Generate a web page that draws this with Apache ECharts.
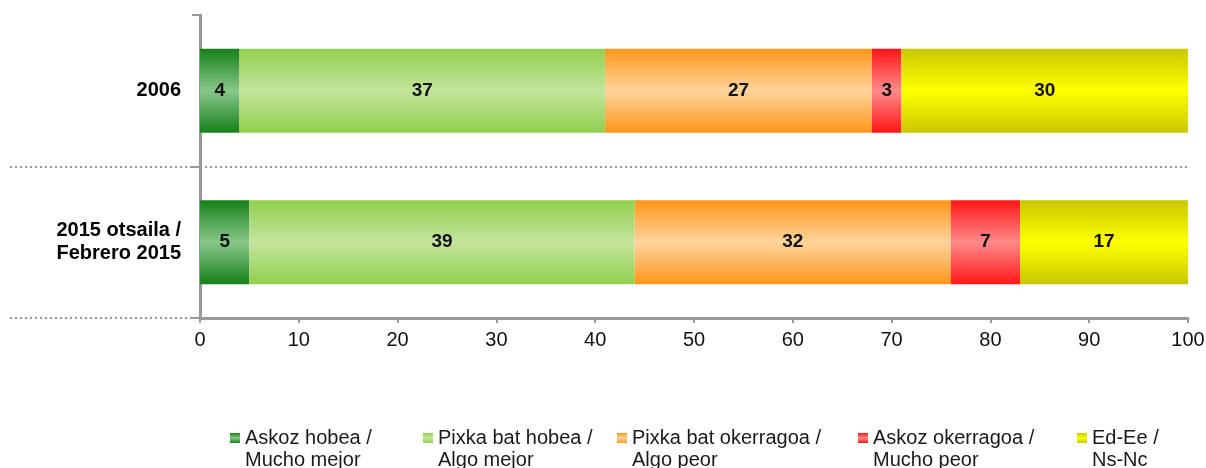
<!DOCTYPE html>
<html>
<head>
<meta charset="utf-8">
<script src="https://cdn.jsdelivr.net/npm/echarts@6/dist/echarts.min.js"></script>
<style>
  html, body { margin: 0; padding: 0; background: #fff; }
  #chart { width: 1206px; height: 468px; }
</style>
</head>
<body>
<div id="chart"></div>
<script>
// Categories (top to bottom) and the five answer groups.
const categories = ['2006', '2015 otsaila /\nFebrero 2015'];
const seriesNames = [
  'Askoz hobea /\nMucho mejor',
  'Pixka bat hobea /\nAlgo mejor',
  'Pixka bat okerragoa /\nAlgo peor',
  'Askoz okerragoa /\nMucho peor',
  'Ed-Ee /\nNs-Nc'
];
const muchoMejor = [4, 5];
const algoMejor  = [37, 39];
const algoPeor   = [27, 32];
const muchoPeor  = [3, 7];
const nsNc       = [30, 17];
const xTicks = [0, 10, 20, 30, 40, 50, 60, 70, 80, 90, 100];

// Edge / centre colours of the vertical bar gradients.
const palette = [
  ['#17801a', '#88c78a'],
  ['#92d050', '#c4e49c'],
  ['#ff961a', '#ffd49c'],
  ['#ff1616', '#ff8a8a'],
  ['#c8c800', '#ffff00']
];
const values = [muchoMejor, algoMejor, algoPeor, muchoPeor, nsNc];
const legendX = [230, 423, 617, 858, 1077];

function grad(edge, mid) {
  return new echarts.graphic.LinearGradient(0, 0, 0, 1, [
    { offset: 0, color: edge },
    { offset: 0.5, color: mid },
    { offset: 1, color: edge }
  ]);
}

const chart = echarts.init(document.getElementById('chart'));
const FONT = '"Liberation Sans", Arial, sans-serif';

chart.setOption({
  animation: false,
  backgroundColor: '#ffffff',
  textStyle: { fontFamily: FONT },
  grid: { left: 200, right: 18, top: 15, bottom: 150, outerBoundsMode: 'none', containLabel: false },
  xAxis: {
    type: 'value',
    min: xTicks[0],
    max: xTicks[xTicks.length - 1],
    interval: 10,
    axisLine: { show: true, lineStyle: { color: '#999999', width: 3 } },
    axisTick: { show: true, length: 5, lineStyle: { color: '#999999', width: 2 } },
    splitLine: { show: false },
    axisLabel: { fontSize: 20, color: '#111', margin: 12, fontFamily: FONT }
  },
  yAxis: {
    type: 'category',
    data: categories,
    inverse: true,
    axisLine: { show: true, lineStyle: { color: '#999999', width: 3 } },
    axisTick: { show: true, length: 8, lineStyle: { color: '#999999', width: 2 } },
    splitLine: {
      show: true, showMinLine: false, showMaxLine: false,
      lineStyle: { color: '#999999', width: 2, type: [2, 3] }
    },
    axisLabel: {
      fontSize: 20, fontWeight: 'bold', color: '#000', margin: 19,
      lineHeight: 23, align: 'right', fontFamily: FONT
    }
  },
  // One legend per item so each marker sits where the reference puts it;
  // a blank first line keeps the marker level with the first text line.
  legend: legendX.map((x, i) => ({
    data: [seriesNames[i]],
    left: x,
    top: 405,
    padding: 0,
    itemWidth: 10,
    itemHeight: 10,
    icon: 'rect',
    formatter: name => ' \n' + name,
    textStyle: { fontSize: 20, color: '#1a1a1a', lineHeight: 22, fontFamily: FONT }
  })),
  series: seriesNames.map((name, i) => ({
    name: name,
    type: 'bar',
    stack: 'total',
    barWidth: 84,
    data: values[i],
    itemStyle: { color: grad(palette[i][0], palette[i][1]) },
    label: {
      show: true, position: 'inside', fontSize: 19, fontWeight: 'bold',
      color: '#111', fontFamily: FONT
    },
    emphasis: { disabled: true }
  }))
});

// Dotted separators continue left of the axis into the label area.
const sepCount = categories.length;
const graphics = [];
for (let k = 1; k <= sepCount; k++) {
  const yTop = chart.convertToPixel({ yAxisIndex: 0 }, categories[k - 1]);
  const step = k < sepCount
    ? chart.convertToPixel({ yAxisIndex: 0 }, categories[k]) - yTop
    : yTop - chart.convertToPixel({ yAxisIndex: 0 }, categories[k - 2]);
  const y = Math.round(yTop + step / 2);
  graphics.push({
    type: 'line',
    shape: { x1: 10, y1: y, x2: 192, y2: y },
    style: { stroke: '#999999', lineWidth: 2, lineDash: [2, 3] },
    silent: true
  });
}
chart.setOption({ graphic: graphics });
</script>
</body>
</html>
